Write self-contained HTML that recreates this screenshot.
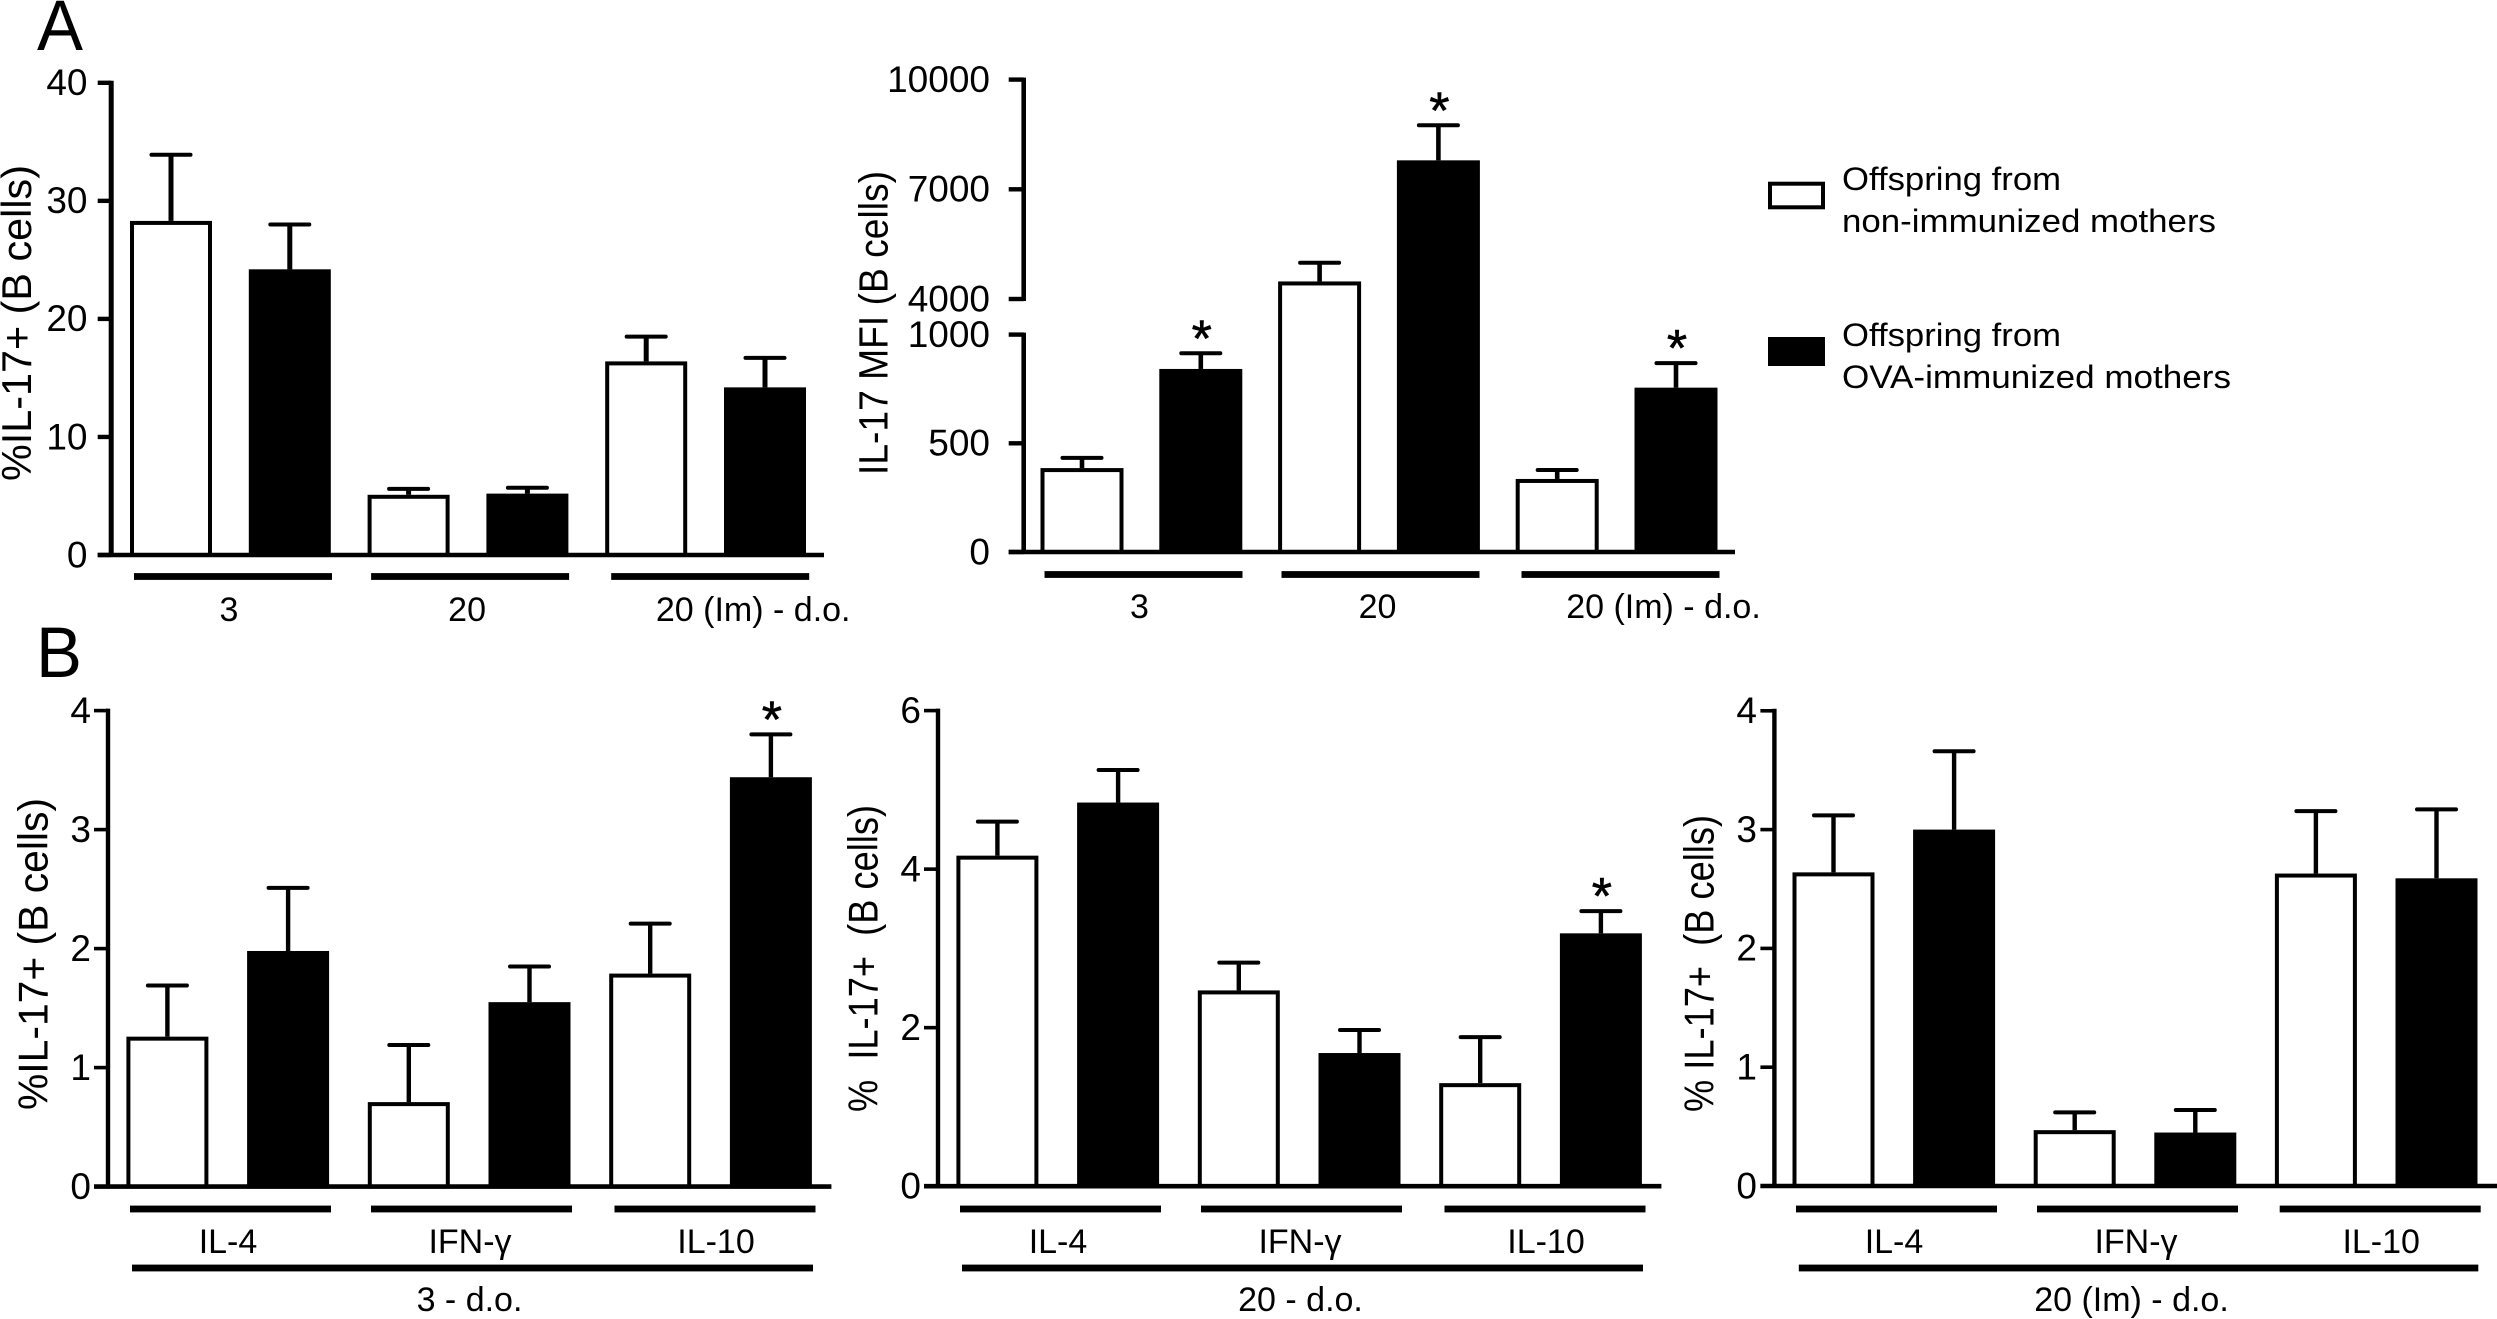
<!DOCTYPE html>
<html lang="en">
<head>
<meta charset="utf-8">
<title>IL-17 expression in B cells of offspring</title>
<style>
  html, body { margin: 0; padding: 0; background: #fff; }
  svg { display: block; }
  text { font-family: "Liberation Sans", sans-serif; fill: #000; }
</style>
</head>
<body>
<svg id="figure" xmlns="http://www.w3.org/2000/svg" width="2497" height="1319" viewBox="0 0 2497 1319">
  <rect x="0" y="0" width="2497" height="1319" fill="#fff"/>
  <text x="37" y="50" font-size="71" textLength="46" lengthAdjust="spacingAndGlyphs">A</text>
  <text x="36" y="677" font-size="71" textLength="46" lengthAdjust="spacingAndGlyphs">B</text>

  <g>
    <rect x="1770" y="183.7" width="53" height="23.6" fill="#fff" stroke="#000" stroke-width="4"/>
    <text x="1842" y="190" font-size="32.5" textLength="219" lengthAdjust="spacingAndGlyphs">Offspring from</text>
    <text x="1842" y="232" font-size="32.5" textLength="374" lengthAdjust="spacingAndGlyphs">non-immunized mothers</text>
    <rect x="1768" y="337" width="57" height="29" fill="#000"/>
    <text x="1842" y="346" font-size="32.5" textLength="219" lengthAdjust="spacingAndGlyphs">Offspring from</text>
    <text x="1842" y="388" font-size="32.5" textLength="389" lengthAdjust="spacingAndGlyphs">OVA-immunized mothers</text>
  </g>

  <text transform="translate(31,481) rotate(-90)" font-size="41.5" textLength="316" lengthAdjust="spacingAndGlyphs">%IL-17+ (B cells)</text>
  <text transform="translate(887.5,475) rotate(-90)" font-size="41" textLength="304" lengthAdjust="spacingAndGlyphs">IL-17 MFI (B cells)</text>
  <text transform="translate(47.7,1110) rotate(-90)" font-size="41.5" textLength="312" lengthAdjust="spacingAndGlyphs">%IL-17+ (B cells)</text>
  <text transform="translate(877.5,1112) rotate(-90)" font-size="41.5" textLength="307" lengthAdjust="spacingAndGlyphs" xml:space="preserve">%  IL-17+  (B cells)</text>
  <text transform="translate(1713.5,1112) rotate(-90)" font-size="41.5" textLength="297" lengthAdjust="spacingAndGlyphs" xml:space="preserve">% IL-17+  (B cells)</text>
</svg>

<script>
// ---- Panel A, left: %IL-17+ by age ----
const a1Groups = ['3', '20', '20 (Im) - d.o.'];
const a1Control = [28.3, 5.1, 16.4];
const a1ControlErr = [5.6, 0.5, 2.1];
const a1Treated = [24.2, 5.2, 14.2];
const a1TreatedErr = [3.8, 0.5, 2.5];
const a1ControlStars = [false, false, false];
const a1TreatedStars = [false, false, false];
const a1Ticks = [0, 10, 20, 30, 40];

// ---- Panel A, right: IL-17 MFI with a broken axis ----
const a2Groups = ['3', '20', '20 (Im) - d.o.'];
const a2Control = [386, 4480, 336];
const a2ControlErr = [47, 513, 41];
const a2Treated = [842, 7792, 756];
const a2TreatedErr = [72, 959, 113];
const a2ControlStars = [false, false, false];
const a2TreatedStars = [true, true, true];
const a2TicksLower = [0, 500, 1000];
const a2TicksUpper = [4000, 7000, 10000];

// ---- Panel B, left: 3 - d.o. ----
const b1Groups = ['IL-4', 'IFN-γ', 'IL-10'];
const b1Control = [1.26, 0.71, 1.79];
const b1ControlErr = [0.43, 0.48, 0.42];
const b1Treated = [1.98, 1.55, 3.44];
const b1TreatedErr = [0.53, 0.30, 0.36];
const b1ControlStars = [false, false, false];
const b1TreatedStars = [false, false, true];
const b1Ticks = [0, 1, 2, 3, 4];

// ---- Panel B, middle: 20 - d.o. ----
const b2Groups = ['IL-4', 'IFN-γ', 'IL-10'];
const b2Control = [4.17, 2.47, 1.30];
const b2ControlErr = [0.43, 0.35, 0.58];
const b2Treated = [4.84, 1.68, 3.19];
const b2TreatedErr = [0.41, 0.29, 0.28];
const b2ControlStars = [false, false, false];
const b2TreatedStars = [false, false, true];
const b2Ticks = [0, 2, 4, 6];

// ---- Panel B, right: 20 (Im) - d.o. ----
const b3Groups = ['IL-4', 'IFN-γ', 'IL-10'];
const b3Control = [2.64, 0.47, 2.63];
const b3ControlErr = [0.48, 0.15, 0.525];
const b3Treated = [3.00, 0.45, 2.59];
const b3TreatedErr = [0.66, 0.19, 0.58];
const b3ControlStars = [false, false, false];
const b3TreatedStars = [false, false, false];
const b3Ticks = [0, 1, 2, 3, 4];

const SVG_NS = 'http://www.w3.org/2000/svg';
const figure = document.getElementById('figure');

function make(tag, attrs, parent) {
  const node = document.createElementNS(SVG_NS, tag);
  for (const key in attrs) node.setAttribute(key, attrs[key]);
  parent.appendChild(node);
  return node;
}

function linearScale(d0, d1, r0, r1) {
  return function (v) { return r0 + (v - d0) / (d1 - d0) * (r1 - r0); };
}

function brokenScale(lower, upper, breakLow, breakHigh) {
  return function (v) {
    if (v <= breakLow) return lower(v);
    return upper(Math.max(v, breakHigh));
  };
}

function drawPanel(p) {
  const g = make('g', {}, figure);
  
  

  const barCenter = function (i) { return p.barFirst + i * p.barStep; };

  // y axis segments
  p.axisSegments.forEach(function (seg) {
    const el = make('line', { x1: p.axisX, x2: p.axisX, y1: p.y(seg[1]) - 2, y2: p.y(seg[0]) + 2, stroke: '#000', 'stroke-width': p.axisWidth }, g);
    
    
  });

  // ticks and tick labels
  p.ticks.forEach(function (t) {
    const yPos = p.y(t);
    const tick = make('line', { x1: p.axisX - p.tickLen, x2: p.axisX, y1: yPos, y2: yPos, stroke: '#000', 'stroke-width': p.tickWidth }, g);
    
    
    const label = make('text', { x: p.tickLabelX, y: yPos + 12.3, 'text-anchor': 'end', 'font-size': 37 }, g);
    
    
    label.textContent = String(t);
  });

  // bars, error bars and significance stars
  const seriesList = [
    { key: 'control', values: p.control, errs: p.controlErr, stars: p.controlStars, fill: '#fff', slot: 0 },
    { key: 'treated', values: p.treated, errs: p.treatedErr, stars: p.treatedStars, fill: '#000', slot: 1 }
  ];
  seriesList.forEach(function (s) {
    s.values.forEach(function (v, i) {
      const cx = barCenter(i * 2 + s.slot);
      const top = p.y(v);
      const errTop = p.y(v + s.errs[i]);

      const stem = make('line', { x1: cx, x2: cx, y1: errTop, y2: top, stroke: '#000', 'stroke-width': p.axisWidth }, g);
      
      

      const cap = make('line', { x1: cx - 19.5, x2: cx + 19.5, y1: errTop, y2: errTop, stroke: '#000', 'stroke-width': 4, 'stroke-linecap': 'round' }, g);
      
      

      const bar = make('rect', { x: cx - p.barWidth / 2, y: top + 2, width: p.barWidth, height: p.zeroY - top - 2, fill: s.fill, stroke: '#000', 'stroke-width': 4 }, g);
      
      

      if (s.stars[i]) {
        const star = make('text', { x: cx + 1, y: errTop + 3, 'text-anchor': 'middle', 'font-size': 52, stroke: '#000', 'stroke-width': 0.6 }, g);
        
        
        star.textContent = '*';
      }
    });
  });

  // x axis
  const xAxis = make('line', { x1: p.axisX - p.tickLen, x2: p.xAxisEnd, y1: p.zeroY, y2: p.zeroY, stroke: '#000', 'stroke-width': 4.6 }, g);
  
  

  // group bars and labels
  p.groups.forEach(function (name, i) {
    const left = barCenter(i * 2) - p.barWidth / 2 - 2 + p.groupShift[i];
    const rule = make('rect', { x: left, y: p.groupLineY - 3.4, width: p.groupLineWidth, height: 6.8, fill: '#000' }, g);
    
    
    const label = make('text', { x: left + p.groupLineWidth / 2 + p.labelShift[i], y: p.groupLabelY, 'text-anchor': 'middle', 'font-size': 34 }, g);
    
    
    label.textContent = name;
  });

  // optional outer grouping rule and label
  if (p.outerLabel) {
    const outerRule = make('rect', { x: p.outerX1, y: 1264.6, width: p.outerX2 - p.outerX1, height: 6.8, fill: '#000' }, g);
    
    
    const outerText = make('text', { x: p.outerLabelX, y: 1311, 'text-anchor': 'middle', 'font-size': 34 }, g);
    
    
    outerText.textContent = p.outerLabel;
  }
}

const labelShiftA = [-4, -3, 43];
const labelShiftB = [-2.5, -1.5, 1];

drawPanel({
  id: 'a1', groups: a1Groups, control: a1Control, controlErr: a1ControlErr, treated: a1Treated, treatedErr: a1TreatedErr,
  controlStars: a1ControlStars, treatedStars: a1TreatedStars,
  ticks: a1Ticks, y: linearScale(0, 40, 555, 82.8), axisSegments: [[0, 40]],
  zeroY: 555, axisX: 111.2, xAxisEnd: 824, tickLen: 13.5, tickLabelX: 87.5, axisWidth: 5, tickWidth: 4.4,
  barFirst: 171, barStep: 118.8, barWidth: 78,
  groupShift: [4, 3.5, 6], labelShift: labelShiftA, groupLineWidth: 198, groupLineY: 576.5, groupLabelY: 621
});

const a2Lower = linearScale(0, 1000, 552, 334.6);
const a2Upper = linearScale(4000, 10000, 299, 79.6);
drawPanel({
  id: 'a2', groups: a2Groups, control: a2Control, controlErr: a2ControlErr, treated: a2Treated, treatedErr: a2TreatedErr,
  controlStars: a2ControlStars, treatedStars: a2TreatedStars,
  ticks: a2TicksLower.concat(a2TicksUpper), y: brokenScale(a2Lower, a2Upper, 1000, 4000), axisSegments: [[0, 1000], [4000, 10000]],
  zeroY: 552, axisX: 1023.7, xAxisEnd: 1735, tickLen: 15, tickLabelX: 990, axisWidth: 4.6, tickWidth: 4.4,
  barFirst: 1082, barStep: 118.8, barWidth: 79,
  groupShift: [4, 3.4, 5.8], labelShift: labelShiftA, groupLineWidth: 198, groupLineY: 574.5, groupLabelY: 618
});

drawPanel({
  id: 'b1', groups: b1Groups, control: b1Control, controlErr: b1ControlErr, treated: b1Treated, treatedErr: b1TreatedErr,
  controlStars: b1ControlStars, treatedStars: b1TreatedStars,
  ticks: b1Ticks, y: linearScale(0, 4, 1186.6, 710.6), axisSegments: [[0, 4]],
  zeroY: 1186.6, axisX: 108, xAxisEnd: 831.4, tickLen: 14, tickLabelX: 91, axisWidth: 4.4, tickWidth: 3.6,
  barFirst: 167.4, barStep: 120.7, barWidth: 78,
  groupShift: [3.6, 3.2, 5.3], labelShift: labelShiftB, groupLineWidth: 201, groupLineY: 1209, groupLabelY: 1253,
  outerLabel: '3 - d.o.', outerX1: 132, outerX2: 813, outerLabelX: 469.5
});

drawPanel({
  id: 'b2', groups: b2Groups, control: b2Control, controlErr: b2ControlErr, treated: b2Treated, treatedErr: b2TreatedErr,
  controlStars: b2ControlStars, treatedStars: b2TreatedStars,
  ticks: b2Ticks, y: linearScale(0, 6, 1186.2, 710.6), axisSegments: [[0, 6]],
  zeroY: 1186.2, axisX: 938, xAxisEnd: 1661.4, tickLen: 14, tickLabelX: 921, axisWidth: 4.4, tickWidth: 3.6,
  barFirst: 997.4, barStep: 120.7, barWidth: 78,
  groupShift: [3.6, 3.2, 5.3], labelShift: labelShiftB, groupLineWidth: 201, groupLineY: 1209, groupLabelY: 1253,
  outerLabel: '20 - d.o.', outerX1: 962, outerX2: 1643, outerLabelX: 1300.5
});

drawPanel({
  id: 'b3', groups: b3Groups, control: b3Control, controlErr: b3ControlErr, treated: b3Treated, treatedErr: b3TreatedErr,
  controlStars: b3ControlStars, treatedStars: b3TreatedStars,
  ticks: b3Ticks, y: linearScale(0, 4, 1186, 710.8), axisSegments: [[0, 4]],
  zeroY: 1186, axisX: 1774.4, xAxisEnd: 2497, tickLen: 14, tickLabelX: 1757, axisWidth: 4.4, tickWidth: 3.6,
  barFirst: 1833.5, barStep: 120.6, barWidth: 78,
  groupShift: [3.5, 3.3, 4.8], labelShift: labelShiftB, groupLineWidth: 201, groupLineY: 1209, groupLabelY: 1253,
  outerLabel: '20 (Im) - d.o.', outerX1: 1798.8, outerX2: 2478.3, outerLabelX: 2131.5
});
</script>
</body>
</html>
